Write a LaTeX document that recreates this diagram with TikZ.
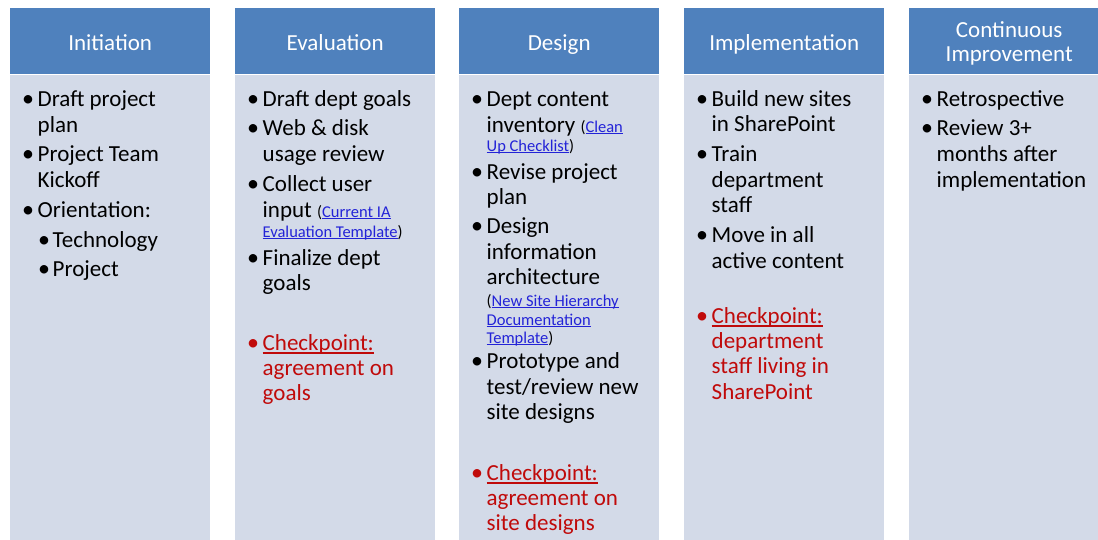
\documentclass[tikz,border=0pt]{standalone}
\usepackage{fontspec}
\setmainfont{Carlito}
\usetikzlibrary{positioning}

\definecolor{hdrblue}{RGB}{79,129,189}
\definecolor{bodyblue}{RGB}{211,218,232}
\definecolor{chkred}{RGB}{192,10,10}
\definecolor{lnkblue}{RGB}{35,35,215}

% underline: #1 = drop below baseline, #2 = rule thickness
\newsavebox\ulbox
\newcommand{\uln}[3]{\sbox\ulbox{#3}\rlap{\rule[-#1]{\wd\ulbox}{#2}}\usebox\ulbox}
\newcommand{\sm}{\fontsize{16.5}{19}\selectfont}
\newcommand{\lnk}[1]{{\color{lnkblue}\uln{2pt}{1pt}{#1}}}
\newcommand{\chk}{\uln{3.5pt}{1.6pt}{Checkpoint:}}

\begin{document}
\begin{tikzpicture}[x=1pt,y=-1pt,
  hdr/.style={fill=hdrblue,text=white,minimum width=200,minimum height=66.5,
    inner sep=0,align=center,font=\fontsize{23}{24}\selectfont},
  hdrone/.style={text height=21,text depth=2.5},
  hdrtwo/.style={text height=44,text depth=3},
  body/.style={fill=bodyblue,minimum width=200,minimum height=470,inner sep=0},
  txt/.style={anchor=base west,inner sep=0,font=\fontsize{23}{26}\selectfont},
  dot/.style={anchor=base,inner sep=0,font=\fontsize{24}{26}\selectfont},
  red/.style={text=chkred}]
\clip (0,0) rectangle (1098,539);

% phase columns
\foreach \x/\n/\t/\o in {10/init/Initiation/hdrone, 235/eval/Evaluation/hdrone,
    459/dsgn/Design/hdrone, 684/impl/Implementation/hdrone,
    909/cont/{Continuous\\Improvement}/hdrtwo} {
  \node[hdr,\o,anchor=north west] (h-\n) at (\x,7.5) {\t};
  \node[body,below=0pt of h-\n] (b-\n) {};
}

% Initiation
\begin{scope}[xshift=10]
\foreach \y in {106,161,217} \node[dot] (init-d\y) at (18,\y) {\textbullet};
\foreach \y/\t in {106/Draft project, 132/plan, 161/Project Team, 187/Kickoff,
    217/Orientation:}
  \node[txt] (init-\y) at (27.5,\y) {\t};
\foreach \y/\t in {247/Technology, 276/Project} {
  \node[dot] (init-d\y) at (34,\y) {\textbullet};
  \node[txt] (init-\y) at (42.5,\y) {\t};
}
\end{scope}

% Evaluation
\begin{scope}[xshift=235]
\foreach \y in {106,135,191,265} \node[dot] (eval-d\y) at (18,\y) {\textbullet};
\foreach \y/\t in {106/Draft dept goals, 135/Web \& disk, 161/usage review,
    191/Collect user, 217/{input {\sm(\lnk{Current IA}}},
    237/{{\sm\lnk{Evaluation Template})}}, 265/Finalize dept, 290/goals}
  \node[txt] (eval-\y) at (27.5,\y) {\t};
\node[dot,red] (eval-d350) at (18,350) {\textbullet};
\foreach \y/\t in {350/\chk, 375/agreement on, 400/goals}
  \node[txt,red] (eval-\y) at (27.5,\y) {\t};
\end{scope}

% Design
\begin{scope}[xshift=459]
\foreach \y in {106,179,233,368} \node[dot] (dsgn-d\y) at (18,\y) {\textbullet};
\foreach \y/\t in {106/Dept content, 132/{inventory {\sm(\lnk{Clean}}},
    151/{{\sm\lnk{Up Checklist})}}, 179/Revise project, 204/plan, 233/Design,
    259/information, 284/architecture, 306/{{\sm(\lnk{New Site Hierarchy}}},
    325/{{\sm\lnk{Documentation}}}, 343/{{\sm\lnk{Template})}},
    368/Prototype and, 394/{test/review new}, 419/site designs}
  \node[txt] (dsgn-\y) at (27.5,\y) {\t};
\node[dot,red] (dsgn-d480) at (18,480) {\textbullet};
\foreach \y/\t in {480/\chk, 505/agreement on, 530/site designs}
  \node[txt,red] (dsgn-\y) at (27.5,\y) {\t};
\end{scope}

% Implementation
\begin{scope}[xshift=684]
\foreach \y in {106,161,242} \node[dot] (impl-d\y) at (18,\y) {\textbullet};
\foreach \y/\t in {106/Build new sites, 131/in SharePoint, 161/Train,
    187/department, 212/staff, 242/Move in all, 268/active content}
  \node[txt] (impl-\y) at (27.5,\y) {\t};
\node[dot,red] (impl-d323) at (18,323) {\textbullet};
\foreach \y/\t in {323/\chk, 348/department, 373/staff living in, 399/SharePoint}
  \node[txt,red] (impl-\y) at (27.5,\y) {\t};
\end{scope}

% Continuous Improvement
\begin{scope}[xshift=909]
\foreach \y in {106,135} \node[dot] (cont-d\y) at (18,\y) {\textbullet};
\foreach \y/\t in {106/Retrospective, 135/Review 3+, 161/months after,
    187/implementation}
  \node[txt] (cont-\y) at (27.5,\y) {\t};
\end{scope}

\end{tikzpicture}
\end{document}
